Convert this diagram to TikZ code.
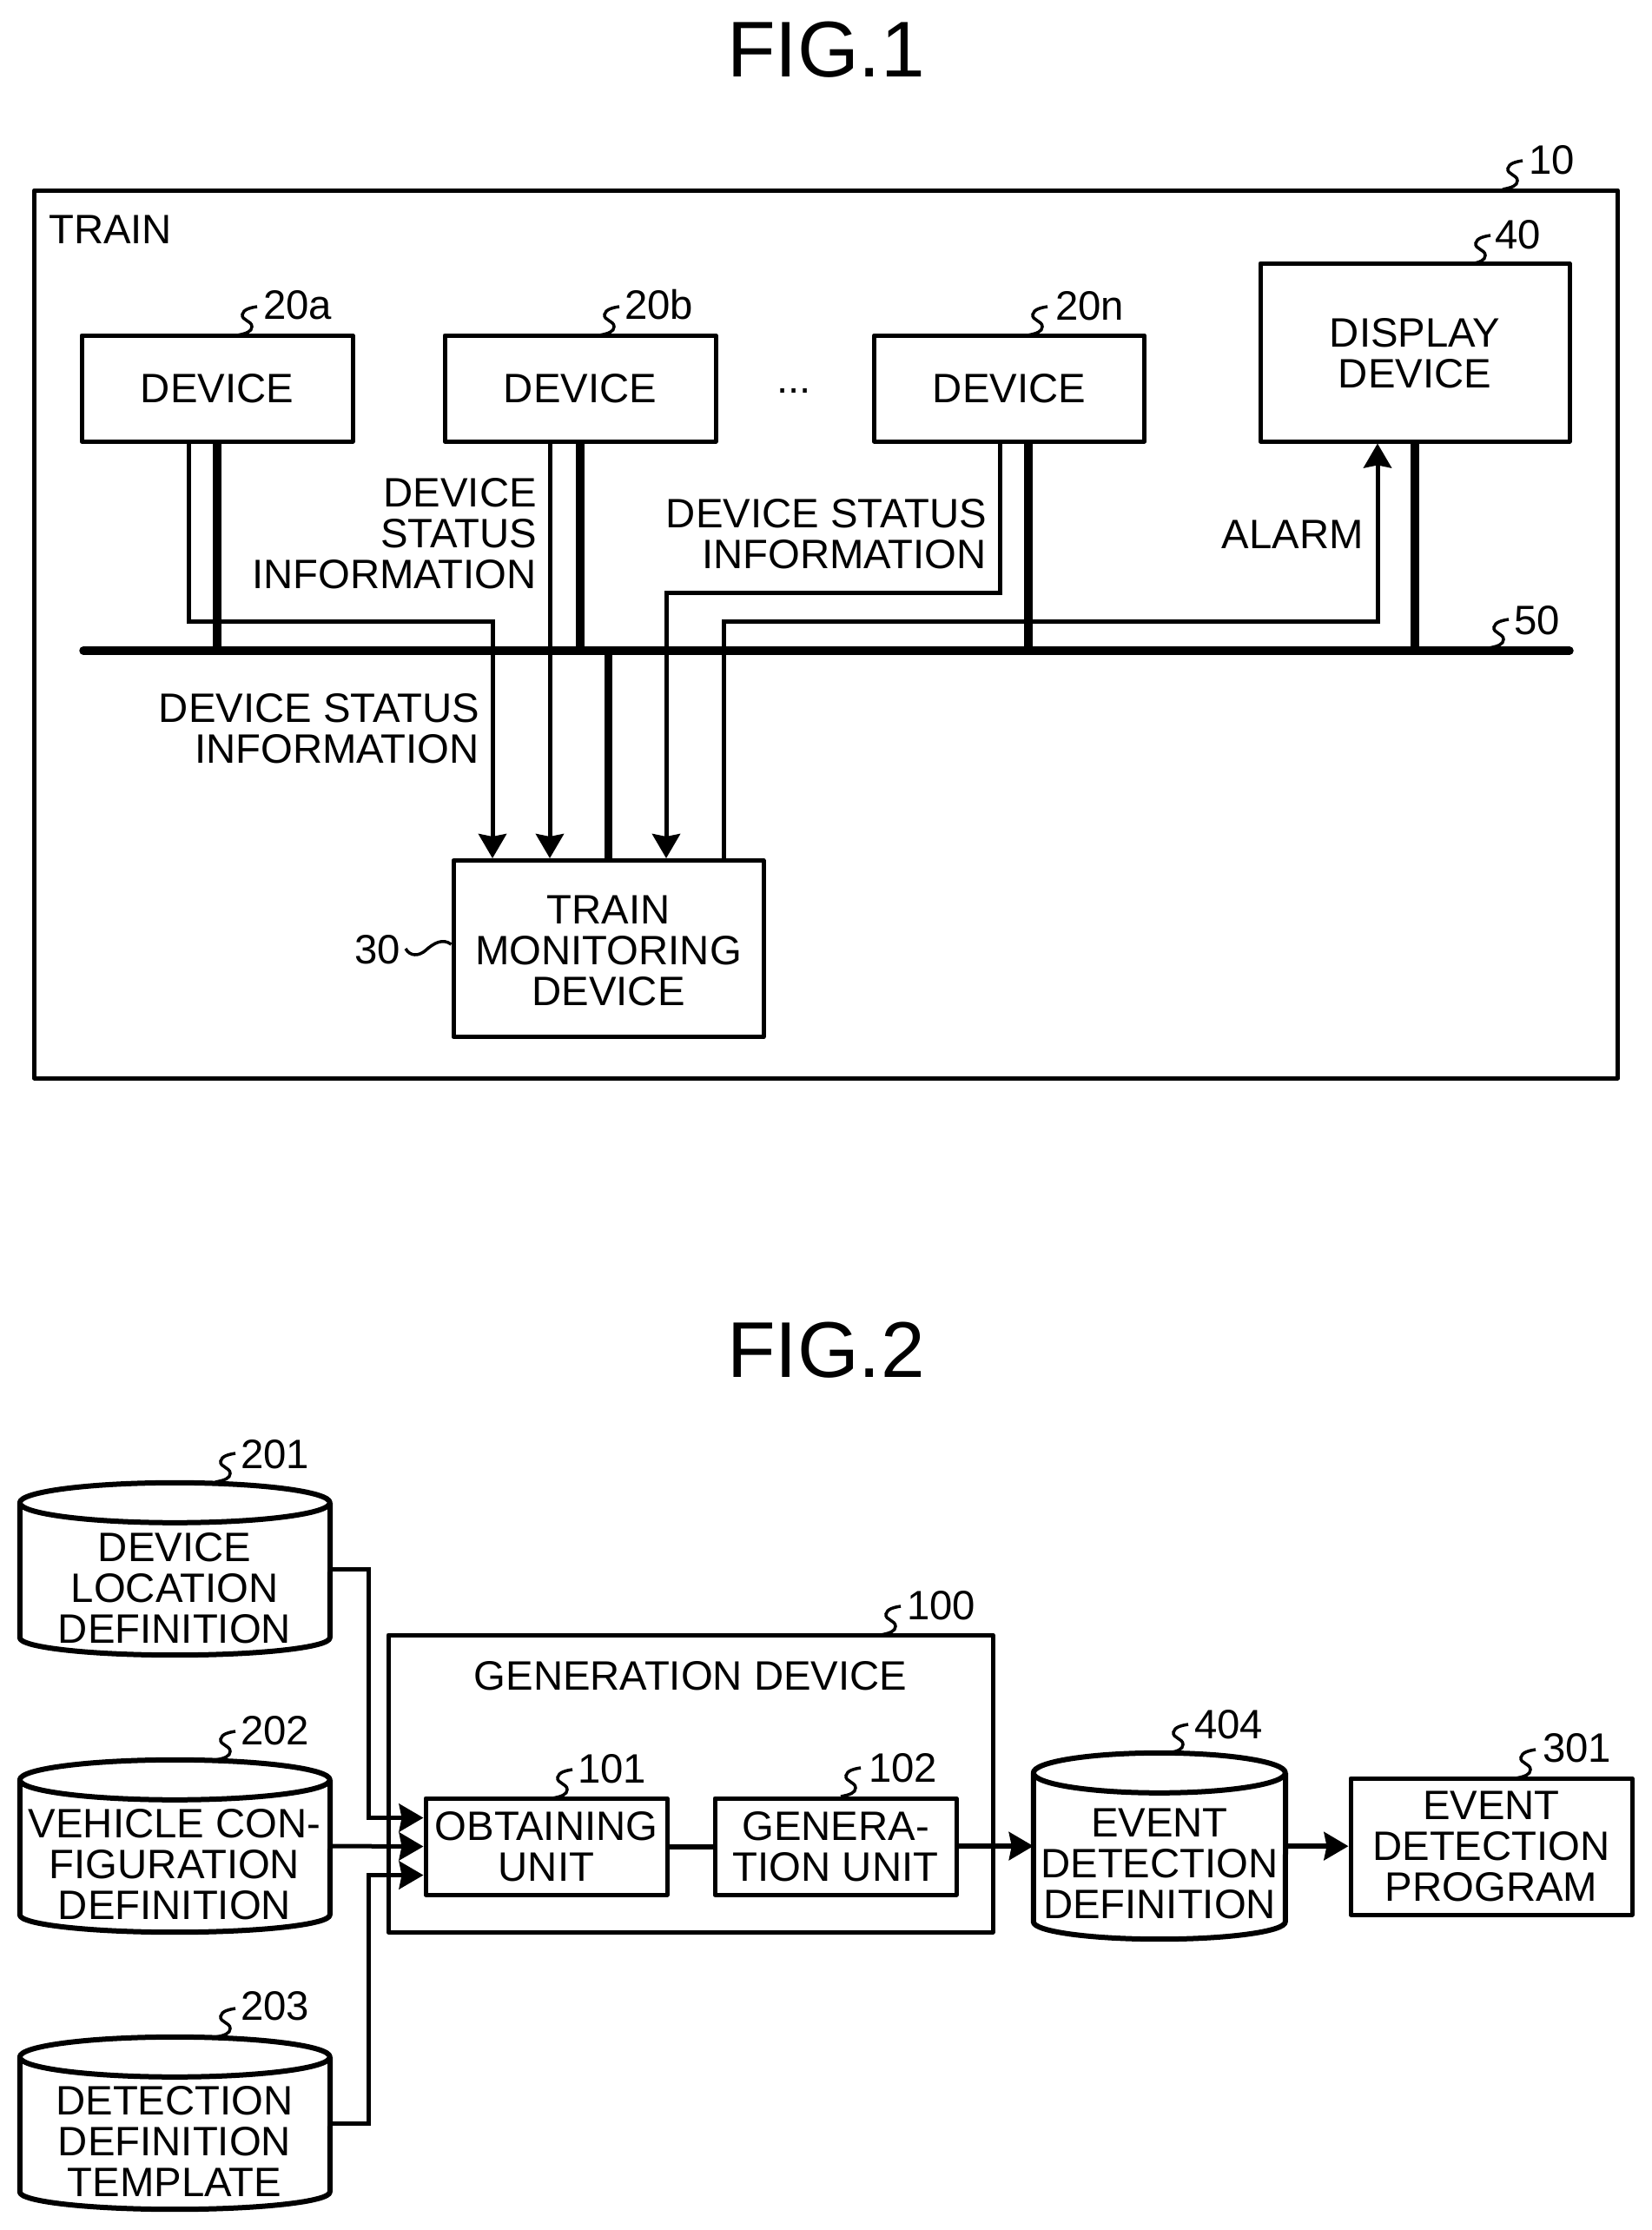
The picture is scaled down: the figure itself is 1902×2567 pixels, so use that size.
\documentclass[tikz,border=0pt]{standalone}
\usepackage{fontspec}
\setmainfont{Liberation Sans}
\usetikzlibrary{arrows.meta, positioning}

\tikzset{
    squig/.pic={\draw[line width=3.5pt] (0,0) .. controls (10,-2) and (17,-4) .. (17,-10) .. controls (17,-17) and (5,-17) .. (6,-24) .. controls (7,-30) and (16,-32) .. (23,-33);},
    boxnode/.style={rectangle, draw=black, line width=5pt, line join=round},
    dbnode/.style={rectangle, draw=none, minimum width=357},
    sigarrow/.style={line width=5pt, -{Stealth[length=28pt, width=32pt, inset=3pt]}},
    powline/.style={line width=9.5pt},
}

\begin{document}
\begin{tikzpicture}[
    x=1pt, y=-1pt,
    every node/.style={font=\fontsize{47.3}{47}\selectfont, inner sep=0pt, align=center},
    reflabel/.style={anchor=west},
    titlelabel/.style={font=\fontsize{91}{91}\selectfont},
]
\useasboundingbox (0,0) rectangle (1902,2567);

% FIG.1
\node[titlelabel] (fig1) at (951,57) {FIG.1};

% Train frame
\node[boxnode, minimum width=1823, minimum height=1022] (train) at (951,730) {};
\node[reflabel] (trainlabel) at (56,264) {TRAIN};

% Devices
\node[boxnode, minimum width=312, minimum height=122] (dev20a) at (250,447) {DEVICE};
\node[boxnode, minimum width=312, minimum height=122, right=101 of dev20a] (dev20b) {DEVICE};
\node[boxnode, minimum width=311, minimum height=122] (dev20n) at (1162,447) {DEVICE};
\node (dots) at (914,450) {...};
\node[boxnode, minimum width=356, minimum height=205] (disp) at (1629,405.5) {};
\node (disptext) at ([yshift=-1.5pt]disp.center) {DISPLAY\\DEVICE};
\node[boxnode, minimum width=357, minimum height=203] (mon) at (700.5,1092) {};
\node (montext) at ([yshift=-2pt]mon.center) {TRAIN\\MONITORING\\DEVICE};

% Bus
\coordinate (busl) at (96,749);
\coordinate (busr) at (1807,749);
\draw[line width=9.5pt, line cap=round] (busl) -- (busr);

% Tap points
\coordinate (lvla) at (0,715);
\coordinate (lvlb) at (0,682);
\coordinate (outa) at ([xshift=-33pt]dev20a.south);
\coordinate (outb) at ([xshift=-35pt]dev20b.south);
\coordinate (outn) at ([xshift=-11pt]dev20n.south);
\coordinate (ina) at ([xshift=-133.5pt]mon.north);
\coordinate (inb) at ([xshift=-67.5pt]mon.north);
\coordinate (inn) at ([xshift=66.5pt]mon.north);
\coordinate (outm) at ([xshift=132.5pt]mon.north);
\coordinate (ind) at ([xshift=-43pt]disp.south);

% Power lines to bus
\foreach \i in {dev20a.south, dev20b.south, disp.south}
    \draw[powline] (\i) -- (\i |- busl);
\draw[powline] ([xshift=22pt]dev20n.south) -- ([xshift=22pt]dev20n.south |- busl);
\draw[powline] (mon.north) -- (mon.north |- busl);

% Signal lines
\draw[sigarrow] (outa) -- (outa |- lvla) -- (ina |- lvla) -- (ina);
\draw[sigarrow] (outb) -- (outb |- inb);
\draw[sigarrow] (outn) -- (outn |- lvlb) -- (inn |- lvlb) -- (inn);
\draw[sigarrow] (outm) -- (outm |- lvla) -- (ind |- lvla) -- (ind);

% Signal labels
\node[align=right, anchor=east] (st1) at (618,614) {DEVICE\\STATUS\\INFORMATION};
\node[align=right, anchor=east] (st2) at (1136,615) {DEVICE STATUS\\INFORMATION};
\node[align=right, anchor=east] (st3) at (552,839) {DEVICE STATUS\\INFORMATION};
\node[anchor=east] (alarm) at (1570,615) {ALARM};

% Reference numerals
\node[reflabel] (n10) at (1760,184) {10};
\node[reflabel] (n40) at (1721,270) {40};
\node[reflabel] (n20a) at (303,351) {20a};
\node[reflabel] (n20b) at (719,351) {20b};
\node[reflabel] (n20n) at (1215,352) {20n};
\node[reflabel] (n50) at (1743,714) {50};
\node[reflabel] (n30) at (408,1093) {30};
\draw[line width=3.5pt] ([yshift=5pt]mon.west) .. controls (510,1080) and (500,1085) .. (490,1094) .. controls (482,1101) and (472,1101) .. (467,1092);

% FIG.2
\node[titlelabel] (fig2) at (951,1554.5) {FIG.2};

% Generation device
\node[boxnode, minimum width=696, minimum height=342] (gen) at (795,2053) {};
\node (genlabel) at (795,1929) {GENERATION DEVICE};
\node[boxnode, minimum width=278, minimum height=111] (obt) at (629,2125.5) {OBTAINING\\UNIT};
\node[boxnode, minimum width=278, minimum height=111] (gnu) at (962,2125.5) {GENERA-\\TION UNIT};
\node[boxnode, minimum width=324, minimum height=157] (prog) at (1717,2125.5) {EVENT\\DETECTION\\PROGRAM};

% Stores
\node[dbnode, minimum height=198] (db201) at (201.5,1806) {};
\node[dbnode, minimum height=198] (db202) at (201.5,2125) {};
\node[dbnode, minimum height=198] (db203) at (201.5,2444) {};
\node[dbnode, minimum height=214, minimum width=290] (db404) at (1335,2125) {};
\node (t201) at (201,1828) {DEVICE\\LOCATION\\DEFINITION};
\node (t202) at (201,2146) {VEHICLE CON-\\FIGURATION\\DEFINITION};
\node (t203) at (201,2465) {DETECTION\\DEFINITION\\TEMPLATE};
\node (t404) at (1335,2145) {EVENT\\DETECTION\\DEFINITION};

\foreach \c/\rx in {db201/178.5, db202/178.5, db203/178.5, db404/145} {
    \draw[line width=6pt, line join=round] ([yshift=-23pt]\c.north west) arc[x radius=\rx, y radius=23, start angle=180, end angle=360]
        arc[x radius=\rx, y radius=23, start angle=0, end angle=180]
        -- ([yshift=20pt]\c.south west) arc[x radius=\rx, y radius=20, start angle=180, end angle=0]
        -- ([yshift=-23pt]\c.north east);
}

% Inputs
\coordinate (bend) at (424,0);
\coordinate (obtu) at ([yshift=33pt]obt.west);
\coordinate (obtd) at ([yshift=-33pt]obt.west);
\draw[sigarrow] (db201.east) -- (db201.east -| bend) -- (obtu -| bend) -- (obtu);
\draw[sigarrow] (db202.east) -- (obt.west);
\draw[sigarrow] (db203.east) -- (db203.east -| bend) -- (obtd -| bend) -- (obtd);

% Outputs
\draw[line width=6pt] (obt) -- (gnu);
\draw[sigarrow, line width=6pt] (gnu) -- (db404.west);
\draw[sigarrow, line width=6pt] (db404.east) -- (prog);

% Numerals, figure 2
\node[reflabel] (n201) at (277,1674) {201};
\node[reflabel] (n202) at (277,1992) {202};
\node[reflabel] (n203) at (277,2309) {203};
\node[reflabel] (n100) at (1044,1848) {100};
\node[reflabel] (n101) at (665,2036) {101};
\node[reflabel] (n102) at (1000,2035) {102};
\node[reflabel] (n404) at (1375,1985) {404};
\node[reflabel] (n301) at (1776,2012) {301};

% Leaders
\foreach \x/\y in {1730/218, 1693/304, 273/386, 690/386, 1183/386, 1714/746,
                   248/1706, 248/2026, 248/2345, 1014/1882, 636/2070, 968/2068, 1345/2018, 1745/2047}
    \pic at (\x,\y) {squig};

\end{tikzpicture}
\end{document}
